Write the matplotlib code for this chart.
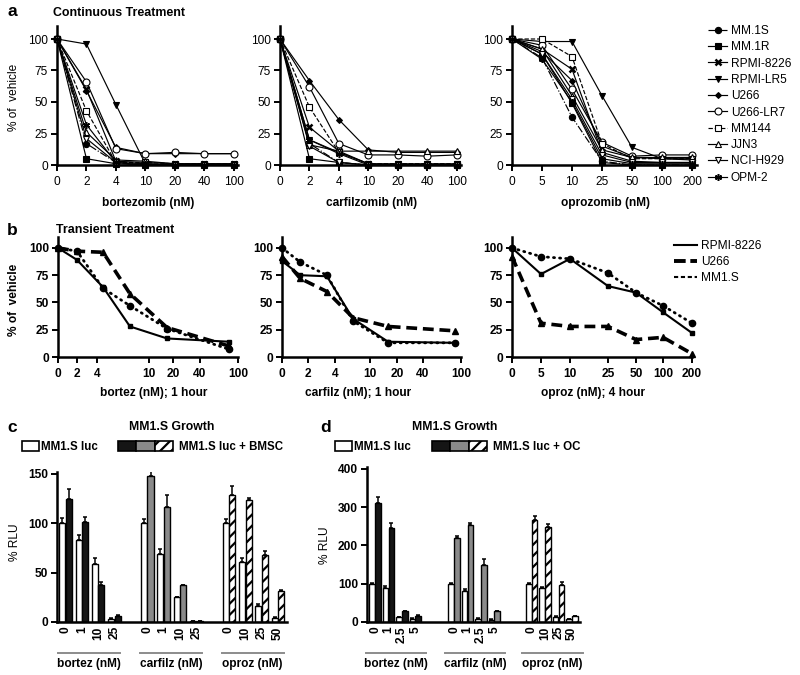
import numpy as np
import matplotlib
matplotlib.use('Agg')
import matplotlib.pyplot as plt
from matplotlib.ticker import FixedLocator, NullLocator
from matplotlib.patches import Patch
from matplotlib.lines import Line2D
from matplotlib.legend_handler import HandlerTuple
import matplotlib.transforms as mtransforms

plt.rcParams['font.family'] = ['Liberation Sans', 'DejaVu Sans']
plt.rcParams['hatch.linewidth'] = 1.6

# ---------------- data: panel a (continuous treatment) ----------------
cell_lines = ['MM.1S', 'MM.1R', 'RPMI-8226', 'RPMI-LR5', 'U266', 'U266-LR7',
              'MM144', 'JJN3', 'NCI-H929', 'OPM-2']
bortezomib_doses = ['0', '2', '4', '10', '20', '40', '100']
carfilzomib_doses = ['0', '2', '4', '10', '20', '40', '100']
oprozomib_doses = ['0', '5', '10', '25', '50', '100', '200']

bortezomib_cont = [
    [100, 17, 2, 0, 0, 0, 0],
    [100, 5, 1, 0, 0, 0, 0],
    [100, 60, 3, 2, 1, 1, 1],
    [100, 96, 48, 1, 0, 0, 0],
    [100, 59, 14, 9, 9, 9, 9],
    [100, 66, 13, 9, 10, 9, 9],
    [100, 43, 2, 2, 1, 1, 1],
    [100, 26, 4, 3, 1, 1, 1],
    [100, 21, 2, 0, 0, 0, 0],
    [100, 32, 2, 1, 0, 0, 0],
]
carfilzomib_cont = [
    [100, 17, 2, 0, 0, 0, 0],
    [100, 5, 2, 0, 0, 0, 0],
    [100, 30, 11, 1, 0, 0, 0],
    [100, 20, 10, 1, 1, 1, 1],
    [100, 67, 36, 12, 10, 10, 10],
    [100, 62, 17, 8, 8, 7, 8],
    [100, 46, 10, 1, 1, 1, 1],
    [100, 16, 11, 11, 11, 11, 11],
    [100, 15, 2, 0, 0, 0, 0],
    [100, 20, 9, 0, 0, 0, 0],
]
oprozomib_cont = [
    [100, 85, 38, 3, 0, 0, 0],
    [100, 88, 49, 2, 0, 0, 0],
    [100, 92, 76, 10, 3, 2, 2],
    [100, 98, 98, 55, 14, 5, 5],
    [100, 90, 67, 15, 6, 5, 4],
    [100, 95, 60, 18, 7, 8, 8],
    [100, 100, 86, 17, 5, 5, 5],
    [100, 92, 55, 12, 6, 6, 6],
    [100, 88, 52, 8, 2, 2, 2],
    [100, 84, 50, 5, 1, 1, 1],
]

# ---------------- data: panel b (transient treatment) ----------------
transient_lines = ['RPMI-8226', 'U266', 'MM1.S']
bortez_ticks = [0, 2, 4, 10, 20, 40, 100]
carfilz_ticks = [0, 2, 4, 10, 20, 40, 100]
oproz_ticks = [0, 5, 10, 25, 50, 100, 200]
bortez_tr_doses = [0, 2, 4.7, 7.8, 17.5, 86]
bortez_tr = [
    [100, 89, 64, 28, 17, 14],
    [100, 97, 96, 58, 27, 10],
    [100, 97, 63, 47, 26, 7],
]
carfilz_tr_doses = [0, 1.4, 3.4, 7.1, 16.7, 90]
carfilz_tr = [
    [88, 75, 74, 35, 14, 13],
    [92, 72, 60, 36, 28, 24],
    [100, 87, 75, 33, 13, 13],
]
oproz_tr_doses = [0, 5, 10, 25, 50, 100, 200]
oproz_tr = [
    [100, 76, 90, 65, 59, 41, 22],
    [92, 31, 28, 28, 16, 18, 3],
    [100, 92, 90, 77, 59, 47, 31],
]

# ---------------- data: panels c, d (MM1.S growth) ----------------
drug_groups = ['bortez (nM)', 'carfilz (nM)', 'oproz (nM)']
c_doses = [['0', '1', '10', '25'], ['0', '1', '10', '25'], ['0', '10', '25', '50']]
c_luc = [[100, 83, 59, 3], [100, 69, 25, 1], [100, 61, 16, 4]]
c_luc_err = [[5, 5, 6, 1], [4, 5, 0, 0], [4, 4, 2, 1]]
c_bmsc = [[125, 101, 37, 6], [148, 117, 37, 1], [129, 124, 68, 31]]
c_bmsc_err = [[10, 5, 4, 1], [5, 12, 1, 0], [9, 2, 4, 1]]

d_doses = [['0', '1', '2.5', '5'], ['0', '1', '2.5', '5'], ['0', '10', '25', '50']]
d_luc = [[100, 90, 12, 9], [100, 82, 9, 6], [100, 88, 14, 7]]
d_luc_err = [[2, 3, 1, 1], [2, 3, 1, 1], [2, 3, 1, 1]]
d_oc = [[312, 246, 28, 16], [220, 254, 148, 28], [266, 248, 97, 15]]
d_oc_err = [[14, 12, 2, 2], [5, 4, 17, 2], [10, 7, 8, 1]]

# ---------------- layout helpers ----------------
W, H = 800, 675
fig = plt.figure(figsize=(8, 6.75), dpi=100)
FS = 8.6


def add_ax(l, t, r, b):
    return fig.add_axes([l / W, 1 - b / H, (r - l) / W, (b - t) / H])


def ftext(x, y, s, **kw):
    kw.setdefault('ha', 'center')
    kw.setdefault('va', 'center')
    return fig.text(x / W, 1 - y / H, s, **kw)


def base_axis(ax):
    for s in ('top', 'right'):
        ax.spines[s].set_visible(False)
    for s in ('left', 'bottom'):
        ax.spines[s].set_linewidth(1.8)
    ax.tick_params(direction='out', length=4, width=1.4, labelsize=FS, pad=2.5)


# ---------------- panel a ----------------
a_styles = [
    dict(ls='-.', marker='o', mfc='black', ms=4.5),
    dict(ls='-', marker='s', mfc='black', ms=4.5),
    dict(ls='-', marker='x', mfc='black', ms=5, mew=1.8),
    dict(ls='-', marker='v', mfc='black', ms=4.5),
    dict(ls='-', marker='D', mfc='black', ms=3),
    dict(ls='-', marker='o', mfc='white', ms=5),
    dict(ls='--', marker='s', mfc='white', ms=5),
    dict(ls='-', marker='^', mfc='white', ms=5),
    dict(ls='-', marker='v', mfc='white', ms=5),
    dict(ls='-', marker=(6, 2, 0), mfc='black', ms=5, mew=1.1),
]
a_panels = [
    (57, 238, bortezomib_doses, bortezomib_cont, 'bortezomib (nM)'),
    (280, 461, carfilzomib_doses, carfilzomib_cont, 'carfilzomib (nM)'),
    (512, 696.5, oprozomib_doses, oprozomib_cont, 'oprozomib (nM)'),
]
a_handles = []
for i, (l, r, doses, vals, xlabel) in enumerate(a_panels):
    ax = add_ax(l, 26.4, r, 165)
    base_axis(ax)
    ax.tick_params(axis='x', pad=4)
    for j, name in enumerate(cell_lines):
        st = dict(color='black', lw=0.85, mec='black', mew=0.8)
        st.update(a_styles[j])
        ln, = ax.plot(doses, vals[j], clip_on=False, zorder=3, label=name, **st)
        if i == 2:
            a_handles.append(ln)
    ax.set_xlim(0, 6.15)
    ax.set_ylim(0, 110)
    ax.set_yticks([0, 25, 50, 75, 100])
    ftext((l + r) / 2 + 1, 203, xlabel, fontsize=FS, fontweight='bold')

fig.legend(a_handles, cell_lines, loc='upper left',
           bbox_to_anchor=(708 / W, 1 - 25 / H), bbox_transform=fig.transFigure,
           frameon=False, fontsize=FS, handlelength=1.6, handletextpad=0.3,
           labelspacing=0.36, borderpad=0, borderaxespad=0, numpoints=1)
ftext(14, 97, '% of  vehicle', rotation=90, fontsize=FS)
ftext(12, 12, 'a', fontsize=12.5, fontweight='bold')
ftext(119, 13, 'Continuous Treatment', fontsize=8.9, fontweight='bold')

# ---------------- panel b ----------------
b_styles = [
    dict(ls='-', lw=1.5, marker='s', ms=3.5),
    dict(ls=(0, (3, 1.6)), lw=2.6, marker='^', ms=4.5),
    dict(ls=(0, (0.4, 1.8)), lw=2.0, marker='o', ms=4.5, dash_capstyle='round'),
]
b_panels = [
    (58, 238, bortez_ticks, [0, 19, 39, 91, 115, 142, 180], bortez_tr_doses, bortez_tr,
     'bortez (nM); 1 hour', 154),
    (282, 461, carfilz_ticks, [0, 26, 53, 88, 115, 141, 179], carfilz_tr_doses, carfilz_tr,
     'carfilz (nM); 1 hour', 358),
    (512, 692, oproz_ticks, [0, 29, 58, 96, 124, 151, 180], oproz_tr_doses, oproz_tr,
     'oproz (nM); 4 hour', 593),
]
for l, r, ticks, tick_pos, doses, vals, xlabel, xl in b_panels:
    ax = add_ax(l, 237, r, 357)
    base_axis(ax)
    tk = np.asarray(ticks, float)
    tp = np.asarray(tick_pos, float)

    def fwd(x, tk=tk, tp=tp):
        return np.interp(x, tk, tp)

    def inv(y, tk=tk, tp=tp):
        return np.interp(y, tp, tk)

    ax.set_xscale('function', functions=(fwd, inv))
    for j in range(3):
        st = dict(color='black', mec='black', mfc='black')
        st.update(b_styles[j])
        ax.plot(doses, vals[j], clip_on=False, zorder=3, **st)
    ax.set_xlim(ticks[0], ticks[-1])
    ax.set_ylim(0, 110)
    ax.xaxis.set_major_locator(FixedLocator(ticks))
    ax.set_xticks(ticks, [str(t) for t in ticks], fontweight='bold')
    ax.set_yticks([0, 25, 50, 75, 100], ['0', '25', '50', '75', '100'], fontweight='bold')
    ax.xaxis.set_minor_locator(NullLocator())
    ax.tick_params(axis='x', pad=4)
    ftext(xl, 393, xlabel, fontsize=FS, fontweight='bold')

b_handles = [
    Line2D([0], [0], color='black', lw=1.5),
    Line2D([0], [0], color='black', lw=2.8, ls=(0, (3, 1.2))),
    Line2D([0], [0], color='black', lw=1.5, ls=(0, (2, 1.3))),
]
fig.legend(b_handles, transient_lines, loc='upper left',
           bbox_to_anchor=(674 / W, 1 - 240 / H), bbox_transform=fig.transFigure,
           frameon=False, fontsize=FS, handlelength=1.9, handletextpad=0.4,
           labelspacing=0.35, borderpad=0, borderaxespad=0)
ftext(14, 300, '% of  vehicle', rotation=90, fontsize=FS, fontweight='bold')
ftext(12, 230, 'b', fontsize=12.5, fontweight='bold')
ftext(115, 230, 'Transient Treatment', fontsize=8.9, fontweight='bold')

# ---------------- panels c, d ----------------
combo_styles = [
    dict(facecolor='#151515', edgecolor='black'),
    dict(facecolor='#8a8a8a', edgecolor='black'),
    dict(facecolor='white', edgecolor='black', hatch='///'),
]


def bar_panel(ax, doses, luc, luc_err, comb, comb_err, offsets, width, sep,
              ylim, yticks, line_span):
    base_axis(ax)
    ax.tick_params(axis='x', length=0, pad=3)
    tick_x, tick_lab = [], []
    tr = mtransforms.blended_transform_factory(ax.transData, fig.transFigure)
    for g in range(3):
        x = offsets[g] + np.arange(4)
        ax.bar(x - sep, luc[g], width, facecolor='white', edgecolor='black',
               lw=1.0, zorder=2)
        ax.errorbar(x - sep, luc[g], yerr=[np.zeros(4), luc_err[g]], fmt='none',
                    ecolor='black', elinewidth=1.1, capsize=1.6, capthick=1.1, zorder=3)
        ax.bar(x + sep, comb[g], width, lw=1.0, zorder=2, **combo_styles[g])
        ax.errorbar(x + sep, comb[g], yerr=[np.zeros(4), comb_err[g]], fmt='none',
                    ecolor='black', elinewidth=1.1, capsize=1.6, capthick=1.1, zorder=3)
        tick_x.extend(list(x))
        tick_lab.extend(doses[g])
        x0, x1 = offsets[g] + line_span[0], offsets[g] + line_span[1]
        ax.plot([x0, x1], [1 - 653 / H] * 2, color='#8c8c8c', lw=1.4,
                transform=tr, clip_on=False)
        ax.text((x0 + x1) / 2, 1 - 664 / H, drug_groups[g], transform=tr,
                ha='center', va='center', fontsize=FS, fontweight='bold')
    ax.set_xticks(tick_x, tick_lab, rotation=90, fontweight='bold', fontsize=8.6)
    ax.set_ylim(*ylim)
    ax.set_yticks(yticks, [str(v) for v in yticks], fontweight='bold')


c_ax = add_ax(57, 472, 287, 622)
bar_panel(c_ax, c_doses, c_luc, c_luc_err, c_bmsc, c_bmsc_err, [0, 5, 10],
          0.37, 0.2, (0, 152), [0, 50, 100, 150], (-0.45, 3.35))
c_ax.set_xlim(-0.52, 13.55)

d_ax = add_ax(367, 467, 580, 622)
bar_panel(d_ax, d_doses, d_luc, d_luc_err, d_oc, d_oc_err, [0, 5.9, 11.7],
          0.41, 0.22, (0, 405), [0, 100, 200, 300, 400], (-0.7, 3.8))
d_ax.set_xlim(-0.6, 15.3)

# legends for c and d
white_patch = Patch(facecolor='white', edgecolor='black', lw=1.2)
combo_patches = tuple(Patch(lw=1.2, **s) for s in combo_styles)
for lx1, lx2, lab2 in [(22, 118, 'MM1.S luc + BMSC'), (335, 432, 'MM1.S luc + OC')]:
    fig.legend([white_patch], ['MM1.S luc'], loc='center left',
               bbox_to_anchor=(lx1 / W, 1 - 447 / H), bbox_transform=fig.transFigure,
               frameon=False, handlelength=1.45, handleheight=0.9,
               handletextpad=0.2, borderpad=0, borderaxespad=0,
               prop=dict(size=8.3, weight='bold'))
    fig.legend([combo_patches], [lab2], loc='center left',
               bbox_to_anchor=(lx2 / W, 1 - 447 / H), bbox_transform=fig.transFigure,
               frameon=False, handlelength=4.8, handleheight=0.9,
               handletextpad=0.45, borderpad=0, borderaxespad=0,
               handler_map={tuple: HandlerTuple(ndivide=None, pad=0)},
               prop=dict(size=8.3, weight='bold'))

ftext(15, 542, '% RLU', rotation=90, fontsize=FS)
ftext(325, 545, '% RLU', rotation=90, fontsize=FS)
ftext(12, 427, 'c', fontsize=12.5, fontweight='bold')
ftext(326, 427, 'd', fontsize=12.5, fontweight='bold')
ftext(172, 427, 'MM1.S Growth', fontsize=8.8, fontweight='bold')
ftext(455, 427, 'MM1.S Growth', fontsize=8.8, fontweight='bold')

fig.savefig('out.png', dpi=100)
